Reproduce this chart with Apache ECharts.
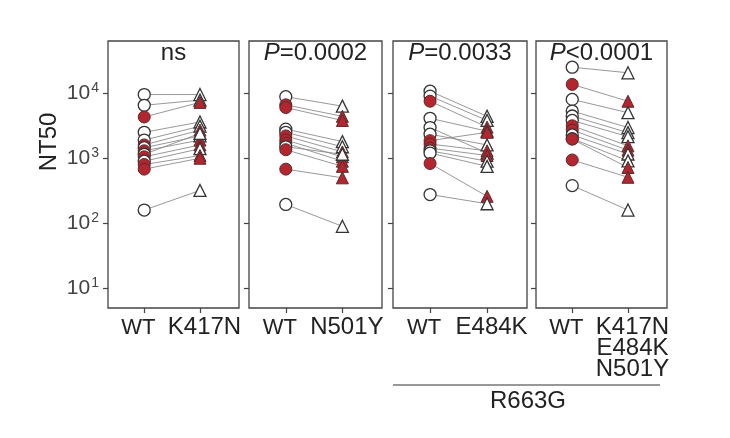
<!DOCTYPE html>
<html>
<head>
<meta charset="utf-8">
<script src="https://cdn.jsdelivr.net/npm/echarts@6/dist/echarts.min.js"></script>
<style>
    html, body { margin: 0; padding: 0; background: #fff; }
    #chartDiv { width: 730px; height: 438px; }
</style>
</head>
<body>
<div id="chartDiv"></div>
<script>
    // 面板标题、横轴名称
    var panelTitles = ['ns', '{i|P}=0.0002', '{i|P}=0.0033', '{i|P}<0.0001'];
    var wtName = 'WT';
    var mutantNames = ['K417N', 'N501Y', 'E484K', 'K417N\nE484K\nN501Y'];
    var yTicks = [1, 2, 3, 4];   // 10^1 .. 10^4

    // NT50 配对数据 (WT -> 突变体)，red = 红色实心
    var wt1  = [9500, 6500, 4300, 2500, 1900, 1600, 1450, 1300, 1150, 1050, 900, 800, 680, 160];
    var mut1 = [9500, 7800, 7200, 3600, 3100, 2700, 2200, 1900, 2400, 1600, 1400, 1100, 1000, 320];
    var red1 = [0, 0, 1, 0, 0, 1, 0, 1, 0, 1, 0, 1, 1, 0];

    var wt2  = [8800, 6600, 6000, 2800, 2500, 2200, 1900, 1700, 1500, 1350, 680, 195];
    var mut2 = [6300, 4400, 3800, 1800, 1500, 1250, 1050, 900, 1150, 750, 500, 90];
    var red2 = [0, 1, 1, 0, 0, 1, 1, 1, 0, 1, 1, 0];

    var wt3  = [10700, 9000, 7500, 4100, 2960, 2340, 1860, 1650, 1430, 1300, 1200, 830, 277];
    var mut3 = [4400, 3800, 3000, 2600, 1200, 1600, 2500, 1300, 1100, 900, 750, 260, 200];
    var red3 = [0, 0, 1, 0, 0, 0, 1, 1, 1, 0, 0, 1, 0];

    var wt4  = [25000, 13600, 8000, 5300, 4450, 3800, 3150, 2700, 2280, 2000, 1960, 940, 380];
    var mut4 = [20500, 7500, 5000, 2960, 2470, 2140, 1550, 1330, 1160, 910, 720, 510, 160];
    var red4 = [0, 1, 0, 0, 0, 0, 1, 1, 0, 0, 1, 1, 0];

    var panels = [[wt1, mut1, red1], [wt2, mut2, red2], [wt3, mut3, red3], [wt4, mut4, red4]];

    // 布局
    var gridLefts = [108, 249, 393, 536];
    var gridWidths = [131, 133, 134, 131];
    var gridTop = 41, gridHeight = 267;

    var redStyle = {color: '#b3262f', borderColor: '#5a2a2a', borderWidth: 1, opacity: 1};
    var openStyle = {color: '#ffffff', borderColor: '#333333', borderWidth: 1.3, opacity: 1};

    var grids = [], xAxes = [], yAxes = [], series = [], titles = [];

    function labelAxis(p, value, show) {
        // 每个面板两个横轴：WT 标签 / 突变体标签分开，避免被重叠隐藏
        return {
            type: 'value', gridIndex: p, min: -0.65, max: 1.7, position: 'bottom',
            axisLine: {show: false, onZero: false}, splitLine: {show: false},
            axisTick: {show: show, customValues: [0, 1], length: 5, lineStyle: {color: '#444', width: 1.2}},
            axisLabel: {
                show: true, customValues: [value], margin: 9,
                formatter: function () {
                    if (value === 0) return '{w|' + wtName + '}';
                    return mutantNames[p].split('\n').map(function (s) { return '{m|' + s + '}'; }).join('\n');
                },
                rich: {
                    w: {fontFamily: 'Liberation Sans', fontSize: 22, color: '#222', lineHeight: 21, padding: [0, 12, 0, 0]},
                    m: {fontFamily: 'Liberation Sans', fontSize: 24, color: '#222', lineHeight: 21, padding: [0, 0, 0, 9]}
                }
            }
        };
    }

    panels.forEach(function (pd, p) {
        var wt = pd[0], mut = pd[1], red = pd[2];
        grids.push({
            left: gridLefts[p], top: gridTop, width: gridWidths[p], height: gridHeight,
            show: true, borderColor: '#444', borderWidth: 1.3, backgroundColor: 'transparent'
        });
        xAxes.push(labelAxis(p, 0, true));
        xAxes.push(labelAxis(p, 1, false));
        yAxes.push({
            type: 'value', gridIndex: p, min: 0.7, max: 4.8, position: 'left',
            axisLine: {show: false, onZero: false}, splitLine: {show: false},
            axisTick: {show: true, customValues: yTicks, length: 5, lineStyle: {color: '#444', width: 1.2}},
            axisLabel: {
                show: p === 0, customValues: yTicks, margin: 9,
                formatter: function (v) { return '{b|10}{s|' + v + '}'; },
                rich: {
                    b: {fontFamily: 'Liberation Sans', fontSize: 21, color: '#444', lineHeight: 24},
                    s: {fontFamily: 'Liberation Sans', fontSize: 14, color: '#444', lineHeight: 24, verticalAlign: 'top', padding: [0, 0, 9, 1]}
                }
            }
        });
        titles.push({
            text: panelTitles[p],
            left: gridLefts[p] + gridWidths[p] / 2, top: 41, textAlign: 'center', padding: 0,
            textStyle: {
                fontFamily: 'Liberation Sans', fontSize: 24, fontWeight: 'normal', color: '#222',
                rich: {i: {fontFamily: 'Liberation Sans', fontSize: 24, fontStyle: 'italic', color: '#222'}}
            }
        });

        var xi = p * 2;
        // 配对连线
        for (var i = 0; i < wt.length; i++) {
            series.push({
                type: 'line', xAxisIndex: xi, yAxisIndex: p, symbol: 'none', silent: true, z: 1,
                lineStyle: {color: '#8c8c8c', width: 0.9},
                data: [[0, Math.log10(wt[i])], [1, Math.log10(mut[i])]]
            });
        }
        series.push({
            type: 'scatter', xAxisIndex: xi, yAxisIndex: p, symbol: 'circle', symbolSize: 12, z: 3,
            data: wt.map(function (v, i) {
                return {value: [0, Math.log10(v)], itemStyle: red[i] ? redStyle : openStyle};
            })
        });
        series.push({
            type: 'scatter', xAxisIndex: xi, yAxisIndex: p, symbol: 'triangle', symbolSize: 12, z: 3,
            data: mut.map(function (v, i) {
                return {value: [1, Math.log10(v)], itemStyle: red[i] ? redStyle : openStyle};
            })
        });
    });

    var chart = echarts.init(document.getElementById('chartDiv'));
    chart.setOption({
        animation: false,
        backgroundColor: '#fff',
        title: titles,
        grid: grids,
        xAxis: xAxes,
        yAxis: yAxes,
        series: series,
        graphic: [
            {
                type: 'text', x: 49, y: 142, rotation: Math.PI / 2,
                style: {text: 'NT50', fontFamily: 'Liberation Sans', fontSize: 24, fill: '#222', textAlign: 'center', textVerticalAlign: 'middle'}
            },
            {
                type: 'line', shape: {x1: 393, y1: 385, x2: 660, y2: 385},
                style: {stroke: '#333', lineWidth: 1.2}
            },
            {
                type: 'text', x: 528, y: 401,
                style: {text: 'R663G', fontFamily: 'Liberation Sans', fontSize: 24, fill: '#222', textAlign: 'center', textVerticalAlign: 'middle'}
            }
        ]
    });
</script>
</body>
</html>
